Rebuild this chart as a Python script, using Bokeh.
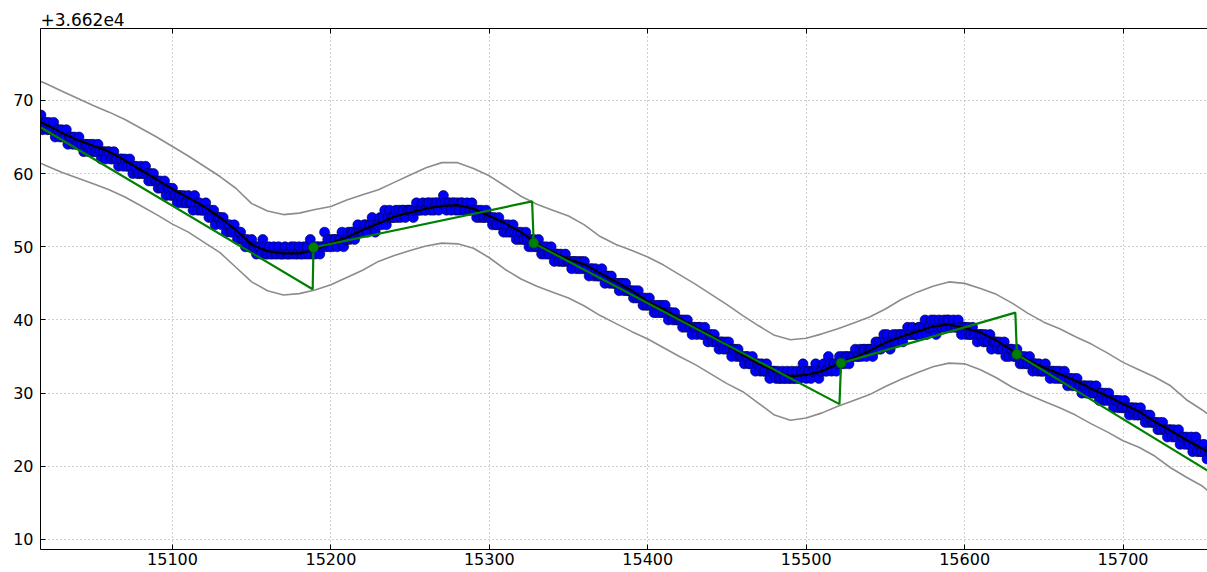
import numpy as np
from bokeh.plotting import figure
from bokeh.models import Range1d, FixedTicker, LinearAxis
from bokeh.embed import file_html
from bokeh.resources import INLINE

# ---------------- data (y values are relative to the axis offset +3.662e4) ----------------
OFFSET_TEXT = "+3.662e4"
x_ticks = [15100, 15200, 15300, 15400, 15500, 15600, 15700]
y_ticks = [10, 20, 30, 40, 50, 60, 70]

# blue samples, one per unit of x starting at 15017
dot_x0 = 15017
dot_y = [
    68, 66, 67,
    67, 66, 67, 66, 66, 67, 65, 66, 66, 65,
    66, 65, 65, 66, 64, 65, 65, 64, 65, 64,
    64, 65, 64, 64, 63, 64, 64, 63, 64, 63,
    64, 63, 63, 64, 63, 62, 63, 63, 62, 63,
    63, 62, 62, 63, 62, 62, 61, 62, 62, 61,
    62, 61, 61, 62, 61, 60, 61, 61, 60, 60,
    61, 60, 60, 61, 60, 59, 60, 59, 60, 59,
    59, 58, 59, 58, 58, 59, 57, 58, 58, 57,
    58, 57, 57, 56, 57, 57, 56, 57, 56, 56,
    57, 56, 56, 55, 57, 56, 55, 56, 55, 55,
    55, 56, 55, 54, 55, 54, 55, 53, 54, 54,
    54, 53, 54, 53, 52, 53, 53, 52, 52, 53,
    52, 51, 52, 52, 51, 51, 50, 51, 50, 50,
    51, 50, 50, 49, 50, 50, 49, 51, 50, 49,
    49, 50, 49, 49, 50, 49, 49, 50, 49, 49,
    49, 50, 49, 49, 49, 50, 49, 50, 49, 49,
    50, 49, 49, 50, 49, 50, 49, 51, 49, 50,
    49, 50, 50, 49, 50, 50, 52, 50, 51, 50,
    51, 50, 51, 51, 50, 51, 51, 52, 50, 51,
    51, 52, 51, 52, 52, 51, 52, 53, 52, 52,
    52, 53, 53, 52, 53, 53, 54, 53, 52, 53,
    53, 54, 53, 54, 55, 53, 54, 55, 54, 54,
    54, 55, 54, 55, 54, 55, 55, 54, 55, 55,
    55, 55, 54, 55, 56, 55, 55, 55, 56, 55,
    55, 56, 56, 55, 56, 55, 56, 56, 55, 56,
    56, 57, 56, 55, 56, 56, 55, 56, 56, 55,
    56, 55, 56, 56, 55, 55, 56, 55, 55, 56,
    55, 55, 54, 55, 54, 55, 54, 54, 55, 54,
    54, 54, 53, 54, 53, 53, 54, 53, 53, 52,
    53, 52, 53, 52, 52, 53, 52, 51, 52, 51,
    52, 51, 51, 52, 51, 50, 51, 50, 51, 50,
    50, 51, 50, 49, 50, 49, 50, 49, 49, 50,
    49, 48, 49, 49, 48, 49, 48, 48, 49, 48,
    48, 48, 47, 48, 48, 47, 48, 47, 48, 47,
    48, 47, 47, 46, 47, 47, 46, 47, 46, 46,
    46, 47, 46, 45, 46, 46, 45, 46, 45, 45,
    45, 45, 44, 45, 45, 44, 45, 44, 44, 44,
    44, 43, 44, 43, 44, 43, 43, 42, 43, 42,
    42, 43, 42, 42, 41, 42, 41, 42, 41, 42,
    41, 42, 41, 40, 41, 41, 40, 41, 40, 40,
    40, 40, 39, 40, 39, 40, 39, 39, 38, 39,
    39, 38, 39, 39, 38, 38, 39, 38, 37, 38,
    38, 37, 38, 37, 37, 36, 37, 37, 36, 37,
    36, 37, 36, 35, 36, 36, 35, 36, 35, 35,
    35, 34, 35, 35, 34, 34, 35, 34, 33, 34,
    34, 33, 34, 33, 33, 34, 33, 32, 33, 33,
    33, 32, 33, 32, 32, 33, 32, 32, 33, 32,
    32, 33, 32, 32, 33, 32, 32, 33, 34, 33,
    32, 33, 33, 32, 33, 33, 34, 33, 32, 33,
    33, 34, 33, 33, 35, 34, 33, 34, 34, 33,
    34, 35, 34, 35, 34, 35, 35, 34, 35, 35,
    35, 36, 35, 35, 36, 35, 36, 36, 35, 36,
    36, 36, 35, 36, 37, 36, 37, 36, 37, 38,
    37, 38, 37, 36, 37, 38, 37, 38, 37, 38,
    38, 37, 38, 38, 39, 38, 38, 39, 38, 38,
    38, 39, 39, 38, 39, 40, 38, 39, 39, 40,
    39, 40, 38, 39, 40, 39, 39, 40, 39, 40,
    40, 39, 39, 40, 39, 39, 40, 39, 38, 39,
    39, 38, 39, 38, 38, 39, 38, 38, 37, 38,
    38, 38, 37, 38, 37, 37, 38, 36, 37, 37,
    37, 36, 37, 36, 36, 37, 35, 36, 35, 36,
    36, 35, 35, 36, 35, 34, 35, 34, 35, 34,
    34, 35, 34, 33, 34, 34, 33, 34, 33, 33,
    33, 34, 33, 33, 32, 33, 33, 32, 33, 32,
    33, 32, 32, 33, 32, 31, 32, 32, 31, 32,
    31, 32, 31, 31, 30, 31, 31, 30, 31, 30,
    31, 30, 30, 31, 30, 29, 30, 30, 29, 30,
    29, 30, 29, 29, 28, 29, 29, 28, 29, 28,
    28, 29, 28, 28, 27, 28, 28, 27, 28, 27,
    27, 28, 27, 27, 26, 27, 26, 27, 26, 26,
    26, 26, 25, 26, 25, 26, 25, 25, 24, 25,
    25, 24, 25, 24, 24, 25, 23, 24, 24, 23,
    24, 23, 23, 24, 22, 23, 24, 22, 23, 22,
    22, 23, 22, 21, 22, 22,
]

# black smoothed curve
smooth_x = [15017, 15020, 15030, 15040, 15050, 15060, 15070, 15080, 15090, 15100,
            15110, 15120, 15130, 15140, 15150, 15160, 15170, 15180, 15190, 15200,
            15210, 15220, 15230, 15240, 15250, 15260, 15270, 15280, 15290, 15300,
            15310, 15320, 15330, 15340, 15350, 15360, 15370, 15380, 15390, 15400,
            15410, 15420, 15430, 15440, 15450, 15460, 15470, 15480, 15490, 15500,
            15510, 15520, 15530, 15540, 15550, 15560, 15570, 15580, 15590, 15600,
            15610, 15620, 15630, 15640, 15650, 15660, 15670, 15680, 15690, 15700,
            15710, 15720, 15730, 15740, 15750, 15755]
smooth_y = [67.0, 66.7, 65.6, 64.6, 63.8, 63.0, 61.8, 60.5, 59.2, 57.9,
            56.7, 55.5, 54.0, 52.3, 50.3, 49.4, 49.1, 49.1, 49.6, 50.5,
            51.3, 52.3, 53.2, 54.1, 54.7, 55.2, 55.6, 55.7, 55.2, 54.2,
            53.2, 52.0, 50.4, 49.3, 48.3, 47.6, 46.4, 45.2, 44.0, 42.5,
            41.5, 40.2, 39.0, 37.9, 36.6, 35.2, 34.0, 33.0, 32.3, 32.5,
            33.0, 34.0, 34.8, 35.8, 36.9, 37.7, 38.4, 39.1, 39.4, 38.9,
            38.3, 37.2, 35.8, 34.5, 33.5, 32.6, 31.7, 30.6, 29.6, 28.5,
            27.5, 26.1, 24.9, 23.6, 22.4, 21.8]

# grey envelope
band_x = smooth_x
band_upper = [72.6, 72.3, 71.3, 70.3, 69.3, 68.4, 67.4, 66.2, 65.0, 63.7,
              62.4, 61.0, 59.6, 58.0, 55.9, 54.9, 54.4, 54.6, 55.1, 55.5,
              56.4, 57.1, 57.8, 58.8, 59.8, 60.8, 61.5, 61.5, 60.7, 59.7,
              58.3, 56.9, 55.8, 55.0, 54.2, 53.0, 51.4, 50.3, 49.5, 48.6,
              47.5, 46.2, 44.9, 43.5, 42.1, 40.6, 39.2, 37.9, 37.3, 37.5,
              38.1, 38.8, 39.6, 40.4, 41.5, 42.8, 43.8, 44.6, 45.2, 45.0,
              44.3, 43.5, 42.3, 40.9, 39.7, 38.8, 37.7, 36.7, 35.5, 34.2,
              33.2, 32.2, 31.0, 29.1, 27.7, 26.9]
band_lower = [61.4, 61.1, 60.2, 59.4, 58.6, 57.8, 56.8, 55.6, 54.4, 53.1,
              52.0, 50.6, 49.2, 47.2, 45.2, 44.0, 43.4, 43.6, 44.1, 44.8,
              45.8, 46.8, 48.0, 48.8, 49.5, 50.1, 50.5, 50.4, 49.8, 48.5,
              46.9, 45.6, 44.6, 43.8, 43.0, 41.9, 40.6, 39.5, 38.4, 37.4,
              36.2, 35.0, 33.9, 32.6, 31.3, 30.2, 28.6, 27.0, 26.3, 26.6,
              27.3, 28.2, 29.0, 29.8, 30.9, 31.9, 32.8, 33.6, 34.1, 34.0,
              33.2, 32.1, 30.8, 29.8, 28.9, 28.0, 27.0, 25.8, 24.7, 23.5,
              22.6, 21.4, 19.8, 18.5, 17.3, 16.4]

# green piecewise linear fit
green_x = [15017, 15188.5, 15189, 15327, 15328, 15521, 15522, 15632, 15633, 15755]
green_y = [66.3, 44.2, 49.9, 56.2, 50.5, 28.5, 34.1, 41.0, 35.3, 19.2]
green_pts_x = [15189, 15328, 15522, 15633]
green_pts_y = [49.9, 50.5, 34.1, 35.3]

# ---------------- figure ----------------
FONT = "DejaVu Sans"
FS = "16px"

p = figure(width=1207, height=572, output_backend="svg", toolbar_location=None,
           x_range=Range1d(15016.7, 15753.3), y_range=Range1d(8.63, 79.83),
           min_border_left=40, min_border_right=0, min_border_top=28,
           min_border_bottom=23, background_fill_color="white",
           border_fill_color="white")
p.outline_line_color = None

p.title.text = OFFSET_TEXT
p.title.align = "left"
p.title.text_font = FONT
p.title.text_font_size = "17px"
p.title.text_font_style = "normal"
p.title.text_color = "black"
p.title.standoff = 5
p.title.offset = 0

for ax in (p.xaxis[0], p.yaxis[0]):
    ax.major_tick_in = 5
    ax.major_tick_out = 0
    ax.minor_tick_line_color = None
    ax.axis_line_color = "black"
    ax.axis_line_width = 1
    ax.major_tick_line_color = "black"
    ax.major_label_text_font = FONT
    ax.major_label_text_font_size = FS
    ax.major_label_text_color = "black"
p.xaxis.ticker = FixedTicker(ticks=x_ticks)
p.yaxis.ticker = FixedTicker(ticks=y_ticks)
p.xaxis.major_label_standoff = 3
p.yaxis.major_label_standoff = 7

top = LinearAxis(ticker=FixedTicker(ticks=x_ticks), major_tick_in=5, major_tick_out=0,
                 minor_tick_line_color=None, major_label_text_font_size="1px",
                 major_label_text_color=None, major_label_standoff=0,
                 axis_line_color="black")
p.add_layout(top, "above")

p.xgrid.ticker = FixedTicker(ticks=x_ticks)
p.ygrid.ticker = FixedTicker(ticks=y_ticks)
for g in (p.xgrid[0], p.ygrid[0]):
    g.grid_line_color = "#a0a0a0"
    g.grid_line_dash = "1 3"
    g.grid_line_width = 1

# grey envelope
p.line(band_x, band_upper, line_color="#8c8c8c", line_width=1.6)
p.line(band_x, band_lower, line_color="#8c8c8c", line_width=1.6)

# samples
dx = (dot_x0 + np.arange(len(dot_y))).tolist()
p.scatter(dx, dot_y, size=10, fill_color="#0000ff", line_color="#000033", line_width=0.6)

# smoothed curve
p.line(smooth_x, smooth_y, line_color="black", line_width=2.2)

# green fit
p.line(green_x, green_y, line_color="#008000", line_width=2.2)
p.scatter(green_pts_x, green_pts_y, size=10, fill_color="#008000",
          line_color="#005000", line_width=0.6)

open("out.html", "w").write(file_html(p, INLINE))
